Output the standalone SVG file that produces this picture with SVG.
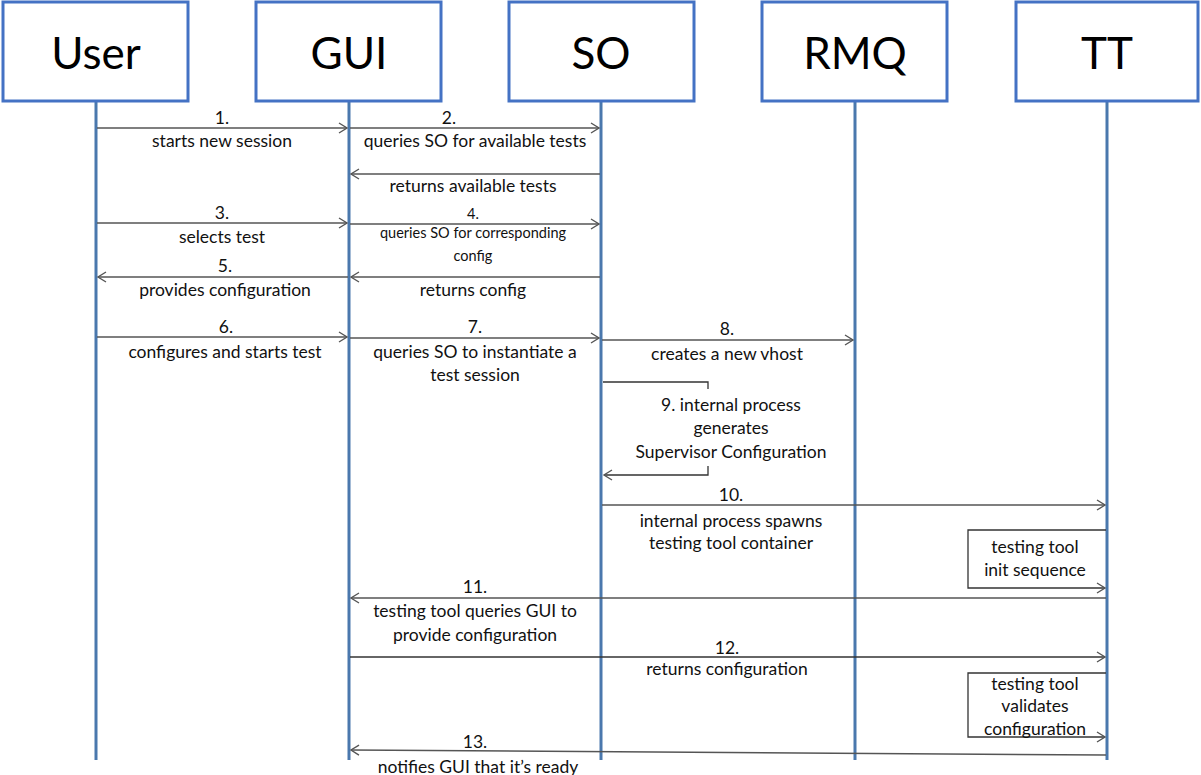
<svg xmlns="http://www.w3.org/2000/svg" width="1201" height="775" viewBox="0 0 1201 775">
<style>
.box{fill:#fff;stroke:#4472c4;stroke-width:3}
.life{stroke:#4a78ad;stroke-width:3}
.hd{font-family:Lato,"Liberation Sans",sans-serif;font-size:44px;fill:#000;text-anchor:middle;dominant-baseline:central}
.t{font-family:Lato,"Liberation Sans",sans-serif;font-size:17.5px;fill:#111;text-anchor:middle;dominant-baseline:central}
.s{font-family:Lato,"Liberation Sans",sans-serif;font-size:14.5px;fill:#111;text-anchor:middle;dominant-baseline:central}
.a{stroke:#555;stroke-width:1.5;fill:none;marker-end:url(#ah)}
.p{stroke:#333;stroke-width:1.3;fill:none;marker-end:url(#ah)}
.pn{stroke:#333;stroke-width:1.3;fill:none}
</style>
<defs>
<marker id="ah" markerUnits="userSpaceOnUse" markerWidth="12" markerHeight="14" refX="9" refY="6" orient="auto">
<path d="M1,1 L9,6 L1,11" fill="none" stroke="#555" stroke-width="1.4"/>
</marker>
</defs>
<rect width="1201" height="775" fill="#fff"/>
<g id="lifelines">
<line class="life" x1="96" y1="102" x2="96" y2="760"/>
<line class="life" x1="349" y1="102" x2="349" y2="760"/>
<line class="life" x1="601" y1="102" x2="601" y2="760"/>
<line class="life" x1="855" y1="102" x2="855" y2="760"/>
<line class="life" x1="1107" y1="102" x2="1107" y2="760"/>
</g>
<g id="node-user"><rect class="box" x="3" y="2" width="185" height="99"/><text class="hd" x="96" y="52">User</text></g>
<g id="node-gui"><rect class="box" x="256" y="2" width="185" height="99"/><text class="hd" x="349" y="52">GUI</text></g>
<g id="node-so"><rect class="box" x="509" y="2" width="185" height="99"/><text class="hd" x="601" y="52">SO</text></g>
<g id="node-rmq"><rect class="box" x="762" y="2" width="185" height="99"/><text class="hd" x="855" y="52">RMQ</text></g>
<g id="node-tt"><rect class="box" x="1016" y="2" width="182" height="99"/><text class="hd" x="1107" y="52">TT</text></g>
<g id="connectors">
<line class="a" x1="97" y1="128" x2="347" y2="128"/>
<line class="a" x1="350" y1="128" x2="599" y2="128"/>
<line class="a" x1="600" y1="174" x2="351" y2="174"/>
<line class="a" x1="97" y1="223" x2="347" y2="223"/>
<line class="a" x1="350" y1="224" x2="599" y2="224"/>
<line class="a" x1="348" y1="277" x2="98" y2="277"/>
<line class="a" x1="600" y1="277" x2="351" y2="277"/>
<line class="a" x1="97" y1="337" x2="347" y2="337"/>
<line class="a" x1="350" y1="338" x2="599" y2="338"/>
<line class="a" x1="602" y1="340" x2="853" y2="340"/>
<path class="pn" d="M603,382 H708 V389"/>
<path class="p" d="M708,466 V475 H604"/>
<line class="a" x1="602" y1="505" x2="1105" y2="505"/>
<path class="p" d="M1106,530 H968 V588 H1105"/>
<line class="a" x1="1106" y1="598" x2="351" y2="598"/>
<line class="p" x1="350" y1="657" x2="1105" y2="657"/>
<path class="p" d="M1106,673 H968 V737 H1105"/>
<line class="a" x1="1106" y1="755" x2="351" y2="750"/>
</g>
<g id="labels">
<text class="t" x="222" y="117">1.</text>
<text class="t" x="222" y="140">starts new session</text>
<text class="t" x="449" y="117">2.</text>
<text class="t" x="475" y="140">queries SO for available tests</text>
<text class="t" x="473" y="185">returns available tests</text>
<text class="t" x="222" y="212">3.</text>
<text class="t" x="222" y="236">selects test</text>
<text class="s" x="473" y="213">4.</text>
<text class="s" x="473" y="232">queries SO for corresponding</text>
<text class="s" x="473" y="255">config</text>
<text class="t" x="225" y="265">5.</text>
<text class="t" x="225" y="289">provides configuration</text>
<text class="t" x="473" y="289">returns config</text>
<text class="t" x="226" y="326">6.</text>
<text class="t" x="225" y="351">configures and starts test</text>
<text class="t" x="475" y="326">7.</text>
<text class="t" x="475" y="351">queries SO to instantiate a</text>
<text class="t" x="475" y="374">test session</text>
<text class="t" x="727" y="328">8.</text>
<text class="t" x="727" y="353">creates a new vhost</text>
<text class="t" x="731" y="404">9. internal process</text>
<text class="t" x="731" y="427">generates</text>
<text class="t" x="731" y="451">Supervisor Configuration</text>
<text class="t" x="731" y="494">10.</text>
<text class="t" x="731" y="520">internal process spawns</text>
<text class="t" x="731" y="542">testing tool container</text>
<text class="t" x="1035" y="546">testing tool</text>
<text class="t" x="1035" y="569">init sequence</text>
<text class="t" x="475" y="586">11.</text>
<text class="t" x="475" y="610">testing tool queries GUI to</text>
<text class="t" x="475" y="634">provide configuration</text>
<text class="t" x="727" y="647">12.</text>
<text class="t" x="727" y="668">returns configuration</text>
<text class="t" x="1035" y="683">testing tool</text>
<text class="t" x="1035" y="705">validates</text>
<text class="t" x="1035" y="728">configuration</text>
<text class="t" x="475" y="741">13.</text>
<text class="t" x="478" y="766">notifies GUI that it’s ready</text>
</g>
</svg>
